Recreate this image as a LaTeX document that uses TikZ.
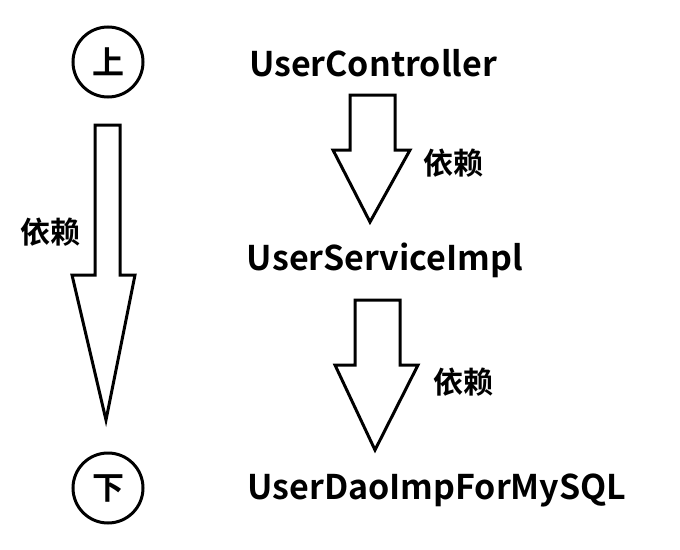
\documentclass[tikz,border=0pt]{standalone}
\usepackage{fontspec}
\newfontfamily\cjk{Noto Sans CJK SC Bold}
\begin{document}
\begin{tikzpicture}[x=1pt,y=-1pt,
  ln/.style={line width=3pt,line join=miter},
  lbl/.style={font=\cjk\fontsize{34}{38}\selectfont,inner sep=0},
  dep/.style={font=\cjk\fontsize{30}{34}\selectfont,inner sep=0}]
\useasboundingbox[fill=white] (0,0) rectangle (680,549);
\node[circle,draw,line width=3pt,minimum size=70pt,inner sep=0,font=\cjk\fontsize{32}{34}\selectfont] (up) at (108,62) {上};
\node[circle,draw,line width=3pt,minimum size=70pt,inner sep=0,font=\cjk\fontsize{32}{34}\selectfont] (down) at (108,488) {下};
\draw[ln] (95,125) -- (120,125) -- (120,275) -- (135,275) -- (106,420) -- (72,275) -- (95,275) -- cycle;
\node[dep] (d0) at (50,232) {依赖};
\node[lbl] (c) at (373,63) {UserController};
\node[lbl] (s) at (385,260) {UserServiceImpl};
\node[lbl] (m) at (437,490) {UserDaoImpForMySQL};
\draw[ln] (350,95) -- (395,95) -- (395,150) -- (410,150) -- (370,222) -- (333,150) -- (350,150) -- cycle;
\node[dep] (d1) at (453,163) {依赖};
\draw[ln] (355,300) -- (400,300) -- (400,365) -- (418,365) -- (375,450) -- (335,365) -- (355,365) -- cycle;
\node[dep] (d2) at (463,382) {依赖};
\end{tikzpicture}
\end{document}
